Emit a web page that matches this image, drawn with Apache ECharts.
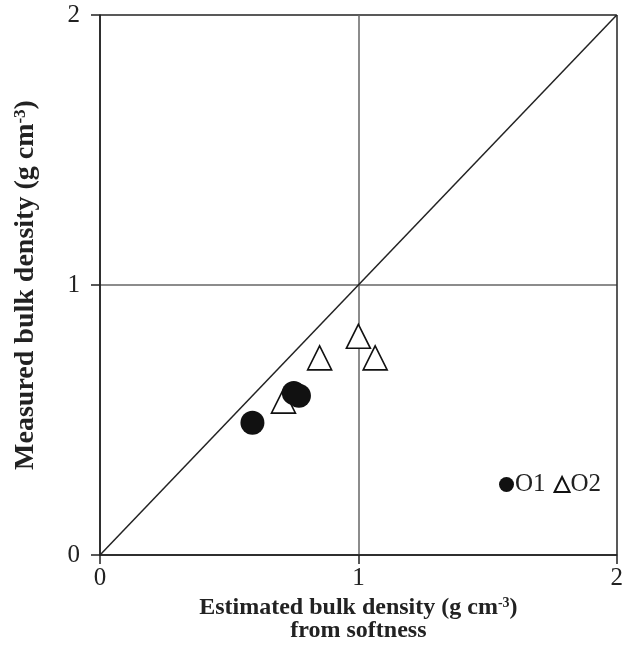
<!DOCTYPE html>
<html>
<head>
<meta charset="utf-8">
<script src="https://cdn.jsdelivr.net/npm/echarts@6/dist/echarts.min.js"></script>
<style>html,body{margin:0;padding:0;background:#fff}#c{width:626px;height:663px}</style>
</head>
<body>
<div id="c"></div>
<script>
var seriesNames = ['O1', 'O2'];
var o1Points = [[0.59, 0.49], [0.75, 0.60], [0.77, 0.59]];
var o2Points = [[0.71, 0.57], [0.85, 0.73], [1.00, 0.81], [1.065, 0.73]];
var oneToOneLine = [[0, 0], [2, 2]];
var axisTicks = [0, 1, 2];

var serif = '"Liberation Serif", "DejaVu Serif", serif';
var chart = echarts.init(document.getElementById('c'));
function rich(size) {
  return {
    b: { fontFamily: serif, fontWeight: 'bold', fontSize: size, color: '#222' },
    sup: { fontFamily: serif, fontWeight: 'bold', fontSize: Math.round(size * 0.6), color: '#222', verticalAlign: 'top', padding: [0, 0, Math.round(size * 0.35), 0] }
  };
}
chart.setOption({
  animation: false,
  grid: { left: 100, right: 5, top: 15, bottom: 108 },
  legend: {
    data: seriesNames,
    left: 494, top: 467,
    itemWidth: 15, itemHeight: 15, itemGap: 8,
    textStyle: { fontFamily: serif, fontSize: 25, color: '#222', padding: [0, 0, 0, -4] }
  },
  xAxis: {
    type: 'value', min: axisTicks[0], max: axisTicks[2], interval: 1,
    name: '{b|Estimated bulk density (g cm}{sup|-3}{b|)}\n{b|from softness}',
    nameLocation: 'middle', nameGap: 25,
    nameTextStyle: { rich: rich(24), lineHeight: 23 },
    axisLine: { lineStyle: { color: '#222', width: 1.5 } },
    axisTick: { show: true, inside: false, length: 9, lineStyle: { color: '#222', width: 1.5 } },
    axisLabel: { fontFamily: serif, fontSize: 25, color: '#222', margin: 11 },
    splitLine: { show: true, lineStyle: { color: ['#222', '#666', '#222'], width: 1.5 } }
  },
  yAxis: {
    type: 'value', min: axisTicks[0], max: axisTicks[2], interval: 1,
    name: '{b|Measured bulk density (g cm}{sup|-3}{b|)}',
    nameLocation: 'middle', nameGap: 60, nameRotate: 90,
    nameTextStyle: { rich: rich(28) },
    axisLine: { lineStyle: { color: '#222', width: 1.5 } },
    axisTick: { show: true, inside: false, length: 9, lineStyle: { color: '#222', width: 1.5 } },
    axisLabel: { fontFamily: serif, fontSize: 25, color: '#222', margin: 20 },
    splitLine: { show: true, lineStyle: { color: ['#222', '#666', '#222'], width: 1.5 } }
  },
  series: [
    {
      name: '1:1', type: 'line', data: oneToOneLine, showSymbol: false, silent: true,
      lineStyle: { color: '#222', width: 1.5 }, z: 1
    },
    {
      name: seriesNames[0], type: 'scatter', data: o1Points, symbol: 'circle', symbolSize: 24,
      itemStyle: { color: '#111', borderColor: '#111', borderWidth: 0, opacity: 1 }, z: 3
    },
    {
      name: seriesNames[1], type: 'scatter', data: o2Points, symbol: 'triangle', symbolSize: [24, 24],
      itemStyle: { color: '#fff', borderColor: '#111', borderWidth: 1.6, opacity: 1 }, z: 2
    }
  ]
});
</script>
</body>
</html>
